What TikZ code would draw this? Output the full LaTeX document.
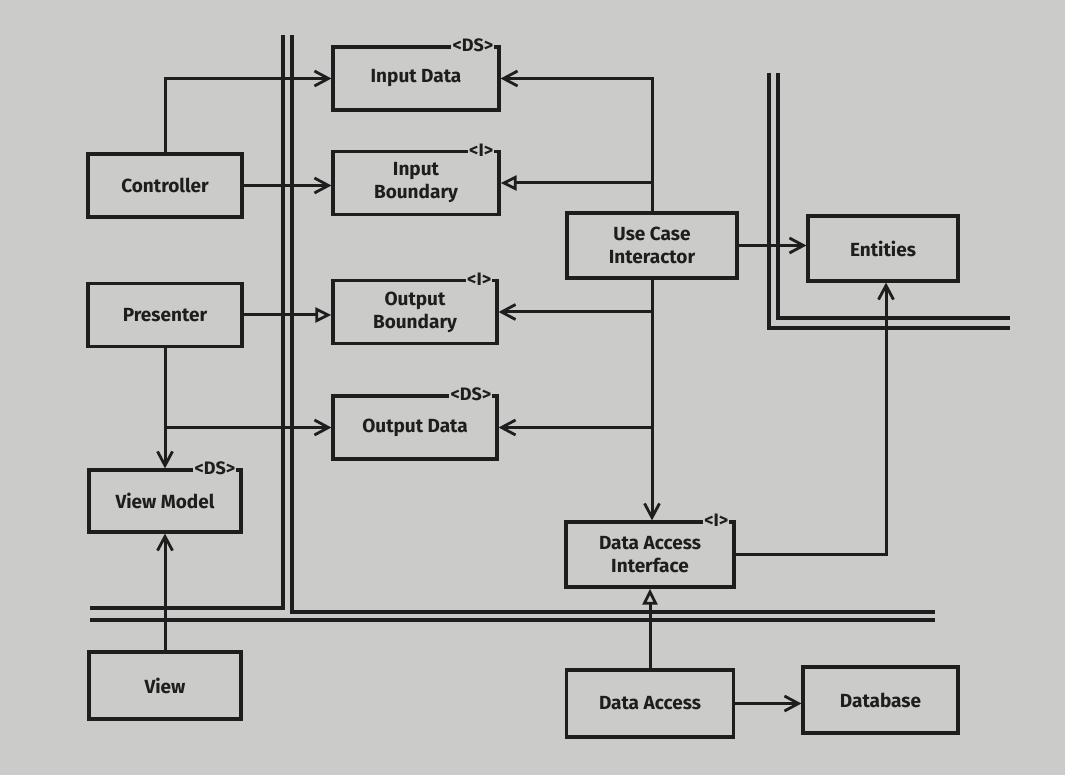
\documentclass[tikz,border=0pt]{standalone}
\usepackage{fontspec}
\setmainfont{Fira Sans}
\usetikzlibrary{arrows.meta}
\definecolor{bg}{HTML}{CBCBC9}
\definecolor{ink}{HTML}{1E1E1E}
\begin{document}
\begin{tikzpicture}[x=1pt,y=-1pt,
  box/.style={draw=ink, line width=3.2pt, rectangle, align=center, inner sep=2pt,
    font=\bfseries\fontsize{19}{23}\selectfont, text=ink},
  stereo/.style={fill=bg, inner sep=1.2pt, anchor=east, text=ink,
    font=\bfseries\fontsize{18}{19}\selectfont},
  conn/.style={draw=ink, line width=3pt},
  stick/.tip={Straight Barb[length=14pt, width=15pt, line width=2.8pt]},
  tri/.tip={Triangle[open, length=16pt, width=15pt, fill=bg, line width=2.8pt]},
  bound/.style={draw=ink, line width=3.2pt, line join=miter}
]
\fill[bg] (0,0) rectangle (1065,775);
\useasboundingbox (0,0) rectangle (1065,775);

% boundaries
\draw[bound] (283,35) -- (283,608) -- (90,608);
\draw[bound] (292,35) -- (292,612) -- (935,612);
\draw[bound] (90,620) -- (935,620);
\draw[bound] (769,73) -- (769,328) -- (1010,328);
\draw[bound] (778,73) -- (778,318) -- (1010,318);

% boxes
\node[box, minimum width=166pt, minimum height=63pt] (inData) at (416,78.5) {Input Data};
\node[box, minimum width=166pt, minimum height=63pt] (inBound) at (416,183) {Input\\Boundary};
\node[box, minimum width=154pt, minimum height=63pt] (ctrl) at (165,185.5) {Controller};
\node[box, minimum width=170pt, minimum height=65pt] (uci) at (652,245.5) {Use Case\\Interactor};
\node[box, minimum width=150pt, minimum height=65pt] (ent) at (883,248.5) {Entities};
\node[box, minimum width=154pt, minimum height=63pt] (pres) at (165,315) {Presenter};
\node[box, minimum width=164pt, minimum height=63pt] (outBound) at (415,312) {Output\\Boundary};
\node[box, minimum width=164pt, minimum height=63pt] (outData) at (415,427.5) {Output Data};
\node[box, minimum width=152pt, minimum height=62pt] (vm) at (165,501) {View Model};
\node[box, minimum width=168pt, minimum height=65pt] (dai) at (650,554.5) {Data Access\\Interface};
\node[box, minimum width=152pt, minimum height=67pt] (view) at (165,685.5) {View};
\node[box, minimum width=167pt, minimum height=67pt] (da) at (650,703.5) {Data Access};
\node[box, minimum width=155pt, minimum height=66pt] (db) at (880.5,700) {Database};

% stereotypes
\node[stereo] (inDataS) at ([xshift=-6pt]inData.north east) {<DS>};
\node[stereo] (inBoundS) at ([xshift=-6pt]inBound.north east) {<I>};
\node[stereo] (outBoundS) at ([xshift=-6pt]outBound.north east) {<I>};
\node[stereo] (outDataS) at ([xshift=-6pt]outData.north east) {<DS>};
\node[stereo] (vmS) at ([xshift=-6pt]vm.north east) {<DS>};
\node[stereo] (daiS) at ([xshift=-6pt]dai.north east) {<I>};

% connectors
\draw[conn,-stick] (ctrl.north) |- (inData.west);
\draw[conn,-stick] (ctrl.east) -- (inBound.west |- ctrl.east);
\draw[conn,-stick] (uci.north) |- (inData.east);
\draw[conn,-tri] (uci.north |- inBound.east) -- (inBound.east);
\draw[conn,-stick] (uci.east) -- (ent.west |- uci.east);
\draw[conn,-stick] (uci.south) -- (uci.south |- dai.north);
\draw[conn,-stick] (uci.south |- outBound.east) -- (outBound.east);
\draw[conn,-stick] (uci.south |- outData.east) -- (outData.east);
\draw[conn,-stick] (dai.east) -| ([xshift=3pt]ent.south);
\draw[conn,-tri] (pres.east) -- (outBound.west |- pres.east);
\draw[conn,-stick] (pres.south) -- (vm.north);
\draw[conn,-stick] (pres.south |- outData.west) -- (outData.west);
\draw[conn,-stick] (view.north) -- (vm.south);
\draw[conn,-tri] (da.north) -- (dai.south);
\draw[conn,-stick] (da.east) -- (db.west |- da.east);
\end{tikzpicture}
\end{document}
